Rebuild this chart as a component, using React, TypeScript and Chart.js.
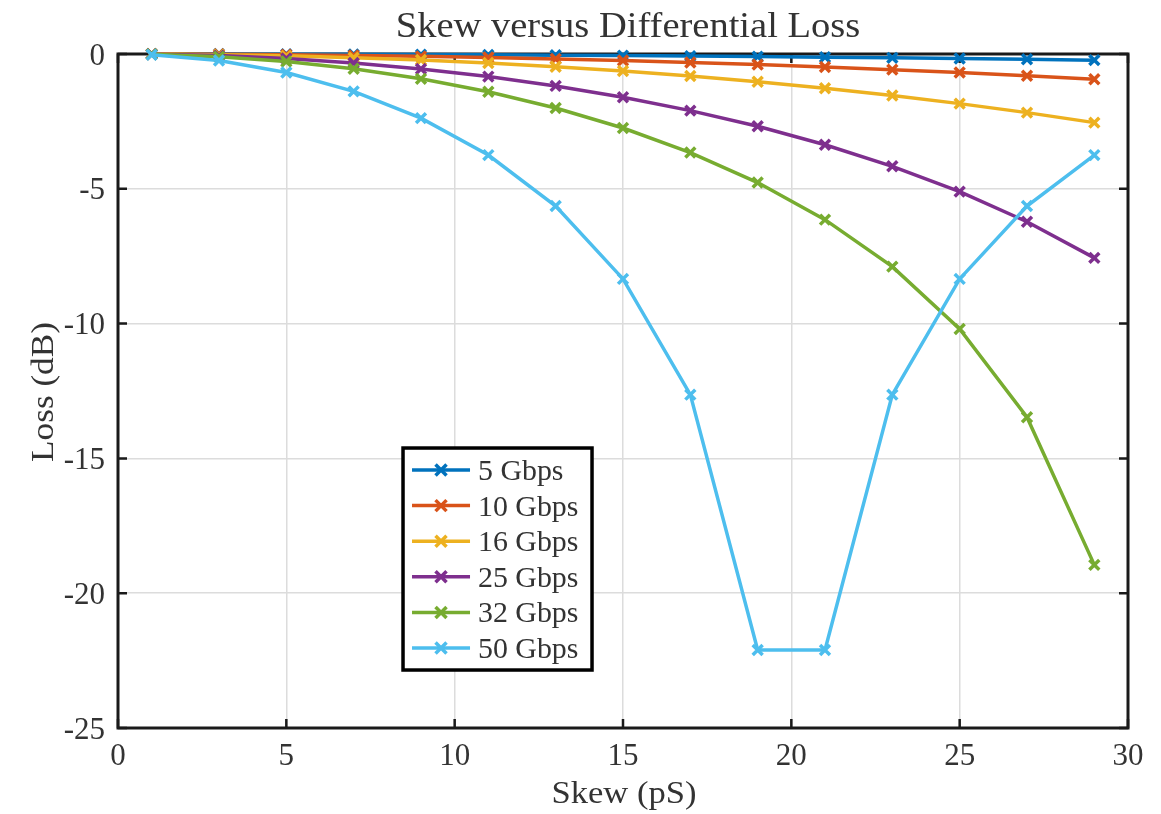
import React, { useEffect, useRef } from "react";
import { Chart, registerables } from "chart.js";

Chart.register(...registerables);

const skewPs = [1, 3, 5, 7, 9, 11, 13, 15, 17, 19, 21, 23, 25, 27, 29];
const seriesNames = ["5 Gbps", "10 Gbps", "16 Gbps", "25 Gbps", "32 Gbps", "50 Gbps"];
const seriesColors = ["#0072BD", "#D95319", "#EDB120", "#7E2F8E", "#77AC30", "#4DBEEE"];
const loss5 = [0, -0.002, -0.007, -0.013, -0.022, -0.032, -0.045, -0.06, -0.078, -0.097, -0.118, -0.142, -0.169, -0.197, -0.228];
const loss10 = [-0.001, -0.01, -0.027, -0.053, -0.087, -0.13, -0.182, -0.243, -0.313, -0.393, -0.482, -0.58, -0.688, -0.806, -0.935];
const loss16 = [-0.003, -0.025, -0.069, -0.135, -0.224, -0.336, -0.472, -0.632, -0.818, -1.03, -1.27, -1.54, -1.841, -2.175, -2.545];
const loss25 = [-0.007, -0.06, -0.169, -0.332, -0.554, -0.837, -1.184, -1.603, -2.099, -2.682, -3.366, -4.165, -5.105, -6.221, -7.562];
const loss32 = [-0.011, -0.099, -0.277, -0.549, -0.921, -1.401, -2.003, -2.746, -3.655, -4.768, -6.145, -7.887, -10.201, -13.473, -18.95];
const loss50 = [-0.027, -0.243, -0.688, -1.385, -2.379, -3.749, -5.639, -8.343, -12.636, -22.107, -22.107, -12.636, -8.343, -5.639, -3.749];
const allLoss = [loss5, loss10, loss16, loss25, loss32, loss50];
const xTicks = [0, 5, 10, 15, 20, 25, 30];
const yTicks = [-25, -20, -15, -10, -5, 0];
const titleText = "Skew versus Differential Loss";
const xTitle = "Skew (pS)";
const yTitle = "Loss (dB)";

const FONT = "'Liberation Serif', 'DejaVu Serif', serif";
const TEXT_COLOR = "#333333";

function drawText(ctx: any, s: string, x: number, y: number, size: number, align: string, sx: number) {
  ctx.save();
  ctx.translate(x, y);
  ctx.scale(sx, 1);
  ctx.font = `${size}px ${FONT}`;
  ctx.textAlign = align;
  ctx.textBaseline = "alphabetic";
  ctx.fillStyle = TEXT_COLOR;
  ctx.fillText(s, 0, 0);
  ctx.restore();
}

export default function App() {
  const ref = useRef<HTMLCanvasElement | null>(null);

  useEffect(() => {
    const canvas = ref.current;
    if (!canvas) return;

    const boxPlugin = {
      id: "matlabBox",
      beforeDatasetsDraw(chart: any) {
        const { ctx, chartArea } = chart;
        const { left, top, right, bottom } = chartArea;
        const xs = chart.scales.x;
        const ys = chart.scales.y;
        ctx.save();
        ctx.strokeStyle = "#1a1a1a";
        ctx.lineWidth = 2.5;
        ctx.beginPath();
        xTicks.forEach((v) => {
          const px = xs.getPixelForValue(v);
          ctx.moveTo(px, bottom);
          ctx.lineTo(px, bottom - 9);
          ctx.moveTo(px, top);
          ctx.lineTo(px, top + 9);
        });
        yTicks.forEach((v) => {
          const py = ys.getPixelForValue(v);
          ctx.moveTo(left, py);
          ctx.lineTo(left + 9, py);
          ctx.moveTo(right, py);
          ctx.lineTo(right - 9, py);
        });
        ctx.stroke();
        ctx.lineWidth = 3;
        ctx.strokeRect(left, top, right - left, bottom - top);
        ctx.restore();
      },
      afterDraw(chart: any) {
        const { ctx, chartArea } = chart;
        const { left, top, right, bottom } = chartArea;
        const xs = chart.scales.x;
        const ys = chart.scales.y;
        const midX = (left + right) / 2;
        const midY = (top + bottom) / 2;

        xTicks.forEach((v) => {
          drawText(ctx, String(v), xs.getPixelForValue(v), bottom + 37, 31, "center", 1);
        });
        yTicks.forEach((v) => {
          drawText(ctx, String(v), left - 13, ys.getPixelForValue(v) + 10.5, 31, "right", 1);
        });

        drawText(ctx, titleText, midX + 5, top - 17, 35, "center", 1.1);
        drawText(ctx, xTitle, midX + 1, bottom + 75, 32, "center", 1.08);
        ctx.save();
        ctx.translate(left - 65, midY + 1);
        ctx.rotate(-Math.PI / 2);
        drawText(ctx, yTitle, 0, 0, 32, "center", 1.1);
        ctx.restore();

        const w = right - left;
        const h = bottom - top;
        const lx = left + w * 0.2822;
        const ly = top + h * 0.5846;
        const lw = 189;
        const lh = 222;
        ctx.save();
        ctx.fillStyle = "#ffffff";
        ctx.fillRect(lx, ly, lw, lh);
        ctx.strokeStyle = "#000000";
        ctx.lineWidth = 3.5;
        ctx.strokeRect(lx, ly, lw, lh);
        seriesNames.forEach((name, i) => {
          const y = ly + 22 + i * 35.6;
          const col = seriesColors[i];
          ctx.strokeStyle = col;
          ctx.lineWidth = 3.5;
          ctx.beginPath();
          ctx.moveTo(lx + 9, y);
          ctx.lineTo(lx + 67, y);
          ctx.stroke();
          const cx = lx + 38;
          const r = 5.5;
          ctx.lineWidth = 3.5;
          ctx.beginPath();
          ctx.moveTo(cx - r, y - r);
          ctx.lineTo(cx + r, y + r);
          ctx.moveTo(cx - r, y + r);
          ctx.lineTo(cx + r, y - r);
          ctx.stroke();
          drawText(ctx, name, lx + 75, y + 10, 29, "left", 1.03);
        });
        ctx.restore();
      },
    };

    const datasets = seriesNames.map((name, i) => ({
      label: name,
      data: skewPs.map((x, j) => ({ x, y: allLoss[i][j] })),
      borderColor: seriesColors[i],
      backgroundColor: seriesColors[i],
      borderWidth: 3.5,
      pointStyle: "crossRot",
      pointRadius: 7,
      pointBorderWidth: 3.5,
      pointBorderColor: seriesColors[i],
      pointBackgroundColor: seriesColors[i],
      tension: 0,
      order: seriesNames.length - i,
      clip: 10,
    }));

    const chart = new Chart(canvas, {
      type: "line",
      data: { datasets },
      options: {
        responsive: false,
        animation: false,
        layout: { padding: { left: 0, right: 33, top: 54, bottom: 0 } },
        plugins: {
          legend: { display: false },
          title: { display: false },
          tooltip: { enabled: false },
        },
        scales: {
          x: {
            type: "linear",
            min: 0,
            max: 30,
            afterBuildTicks: (axis: any) => {
              axis.ticks = xTicks.map((v) => ({ value: v }));
            },
            afterFit: (axis: any) => {
              axis.height = 86;
            },
            grid: { color: "#dcdcdc", lineWidth: 1.5, drawTicks: false },
            border: { display: false },
            ticks: { display: false },
          },
          y: {
            type: "linear",
            min: -25,
            max: 0,
            afterBuildTicks: (axis: any) => {
              axis.ticks = yTicks.map((v) => ({ value: v }));
            },
            afterFit: (axis: any) => {
              axis.width = 118;
            },
            grid: { color: "#dcdcdc", lineWidth: 1.5, drawTicks: false },
            border: { display: false },
            ticks: { display: false },
          },
        },
      },
      plugins: [boxPlugin],
    });

    return () => chart.destroy();
  }, []);

  return (
    <div style={{ position: "fixed", left: 0, top: 0, width: 1161, height: 814, background: "#ffffff" }}>
      <canvas ref={ref} width={1161} height={814} style={{ display: "block" }} />
    </div>
  );
}
